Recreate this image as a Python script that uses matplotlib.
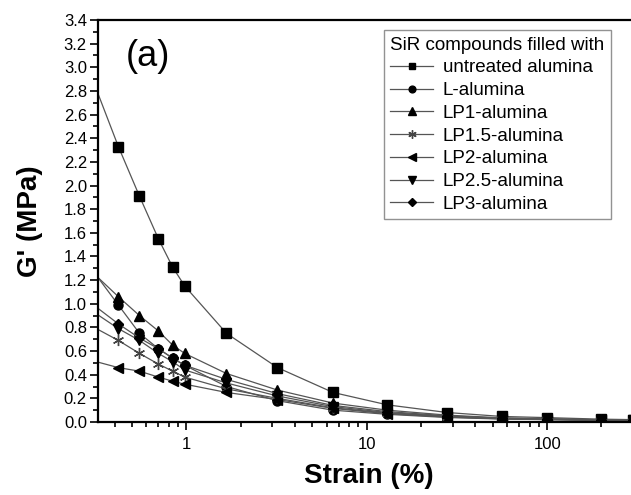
# plot.py
# Storage modulus G' vs strain for SiR compounds with treated alumina fillers.

import matplotlib
matplotlib.use("Agg")
import matplotlib.pyplot as plt
from matplotlib.ticker import MultipleLocator, FixedLocator, FixedFormatter

plt.rcParams["font.family"] = ["Liberation Sans", "DejaVu Sans"]

# strain (%) -- first point lies just left of the visible axis
strain = [0.30, 0.42, 0.55, 0.70, 0.84, 0.98, 1.67, 3.2, 6.5, 13, 28, 56, 100, 200, 300]

untreated = [2.91, 2.33, 1.91, 1.55, 1.31, 1.15, 0.75, 0.46, 0.25, 0.145, 0.08, 0.047, 0.037, 0.024, 0.02]
l_alumina = [1.29, 0.99, 0.75, 0.62, 0.54, 0.48, 0.30, 0.18, 0.10, 0.065, 0.038, 0.025, 0.02, 0.014, 0.012]
lp1 = [1.27, 1.06, 0.90, 0.77, 0.65, 0.58, 0.41, 0.27, 0.16, 0.10, 0.058, 0.035, 0.028, 0.018, 0.015]
lp15 = [0.81, 0.69, 0.58, 0.49, 0.43, 0.38, 0.28, 0.20, 0.12, 0.075, 0.045, 0.028, 0.022, 0.015, 0.012]
lp2 = [0.52, 0.46, 0.43, 0.38, 0.345, 0.32, 0.25, 0.19, 0.115, 0.07, 0.042, 0.027, 0.021, 0.014, 0.012]
lp25 = [0.94, 0.79, 0.69, 0.58, 0.51, 0.44, 0.33, 0.22, 0.13, 0.08, 0.048, 0.03, 0.024, 0.016, 0.013]
lp3 = [1.00, 0.83, 0.71, 0.62, 0.54, 0.48, 0.36, 0.24, 0.14, 0.088, 0.052, 0.032, 0.025, 0.017, 0.014]

series = [
    ("untreated alumina", untreated, "s", "black", 6.5),
    ("L-alumina", l_alumina, "o", "black", 6.5),
    ("LP1-alumina", lp1, "^", "black", 7),
    ("LP1.5-alumina", lp15, (6, 2, 0), "#444444", 8),
    ("LP2-alumina", lp2, "<", "black", 7),
    ("LP2.5-alumina", lp25, "v", "black", 7),
    ("LP3-alumina", lp3, "D", "black", 5.5),
]

W, H = 631, 495
fig = plt.figure(figsize=(W / 100, H / 100), dpi=100)
ax = fig.add_axes([98 / W, 1 - 422 / H, (640 - 98) / W, (422 - 20) / H])

for label, vals, mk, col, ms in series:
    ax.plot(strain, vals, color="#555555", linewidth=0.9, marker=mk,
            markersize=ms, markerfacecolor=col, markeredgecolor=col,
            markeredgewidth=1.0, label=label)

ax.set_xscale("log")
ax.set_xlim(0.324, 327)
ax.set_ylim(0, 3.4)

ax.xaxis.set_major_locator(FixedLocator([1, 10, 100]))
ax.xaxis.set_major_formatter(FixedFormatter(["1", "10", "100"]))
ax.yaxis.set_major_locator(MultipleLocator(0.2))
ax.yaxis.set_minor_locator(MultipleLocator(0.1))
ax.yaxis.set_major_formatter(plt.FuncFormatter(lambda v, p: f"{v:.1f}"))

ax.tick_params(which="both", direction="out", top=False, right=False,
               labelsize=12, width=1.2, color="black", pad=2)
ax.tick_params(which="major", length=6)
ax.tick_params(which="minor", length=3.5)
ax.tick_params(axis="x", which="major", pad=5)

for side in ["left", "bottom", "top"]:
    ax.spines[side].set_linewidth(1.6)
ax.spines["right"].set_visible(False)

ax.set_xlabel("Strain (%)", fontsize=20, fontweight="bold", labelpad=8)
ax.set_ylabel("G' (MPa)", fontsize=20, fontweight="bold", labelpad=15)

fig.text(126 / W, 1 - 57 / H, "(a)", fontsize=26, va="center", ha="left")

leg = ax.legend(loc="upper right", bbox_to_anchor=(611 / W, 1 - 30 / H),
                bbox_transform=fig.transFigure, borderaxespad=0,
                title="SiR compounds filled with", title_fontsize=13.5,
                fontsize=13.5, alignment="left", frameon=True, fancybox=False,
                labelspacing=0.3, handlelength=2.3, handletextpad=0.5,
                borderpad=0.35, markerscale=0.75, edgecolor="#777777")
leg.get_frame().set_linewidth(1.0)

fig.savefig("out.png", dpi=100)
